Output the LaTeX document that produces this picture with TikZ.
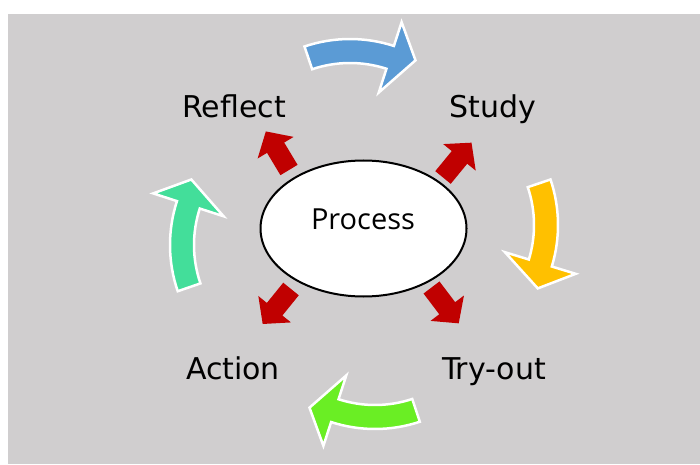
\documentclass[tikz,border=0pt]{standalone}
\usepackage{fontspec}
\setmainfont{Open Sans}
\newfontfamily\labelfont{DejaVu Sans}
\usetikzlibrary{shapes.geometric}
\definecolor{bggray}{HTML}{D0CECF}
\definecolor{arrowred}{HTML}{C00000}
\definecolor{cblue}{HTML}{5B9BD5}
\definecolor{cyellow}{HTML}{FFC000}
\definecolor{cgreen}{HTML}{6AEE24}
\definecolor{cteal}{HTML}{43DE9A}
\tikzset{
  curvarrow/.style={draw=white, line width=2.5pt, line join=miter, miter limit=6},
  redarr/.style={fill=arrowred},
  lbl/.style={font=\labelfont\fontsize{30}{36}\selectfont, anchor=base, inner sep=0pt},
  proclbl/.style={font=\fontsize{29}{34}\selectfont, anchor=base, inner sep=0pt},
  procbox/.style={ellipse, draw=black, fill=white, line width=2pt, minimum width=206pt, minimum height=136pt, inner sep=0pt}
}
% curved block arrow: cx, cy, start angle, end angle, colour
\newcommand\cyclearrow[5]{%
  \filldraw[curvarrow, fill=#5, shift={(#1,#2)}]
    (#3:142) arc[start angle=#3, end angle=#4, radius=142]
    -- (#4:167) -- ({#4-10.5}:137.3) -- (#4:93) -- (#4:118)
    arc[start angle=#4, end angle=#3, radius=118] -- cycle;}
% straight red block arrow: tail x, tail y, direction
\newcommand\outarrow[3]{%
  \fill[redarr, shift={(#1,#2)}, rotate=#3]
    (0,-10) -- (26,-10) -- (26,-21) -- (45,0) -- (26,21) -- (26,10) -- (0,10) -- cycle;}
\begin{document}
\begin{tikzpicture}[x=1pt,y=1pt]
\useasboundingbox (0,0) rectangle (700,464);
\fill[white] (0,0) rectangle (700,464);
\fill[bggray] (8,0) rectangle (700,450);

\cyclearrow{350}{283}{108.7}{72}{cblue}
\cyclearrow{416}{239}{18.7}{-17}{cyellow}
\cyclearrow{375}{177}{-71.6}{-108}{cgreen}
\cyclearrow{312}{219}{199}{162}{cteal}

\outarrow{289}{294}{121}
\outarrow{443}{286.5}{50.7}
\outarrow{291}{175}{231}
\outarrow{431.5}{176.5}{-52.8}

\node[procbox] (proc) at (363.5,235.5) {};
\node[proclbl] (proctext) at (363,235) {Process};

\node[lbl] (reflect) at (234,346) {Reflect};
\node[lbl] (study) at (493,346) {Study};
\node[lbl] (action) at (233,85) {Action};
\node[lbl] (tryout) at (494,85) {Try-out};
\end{tikzpicture}
\end{document}
